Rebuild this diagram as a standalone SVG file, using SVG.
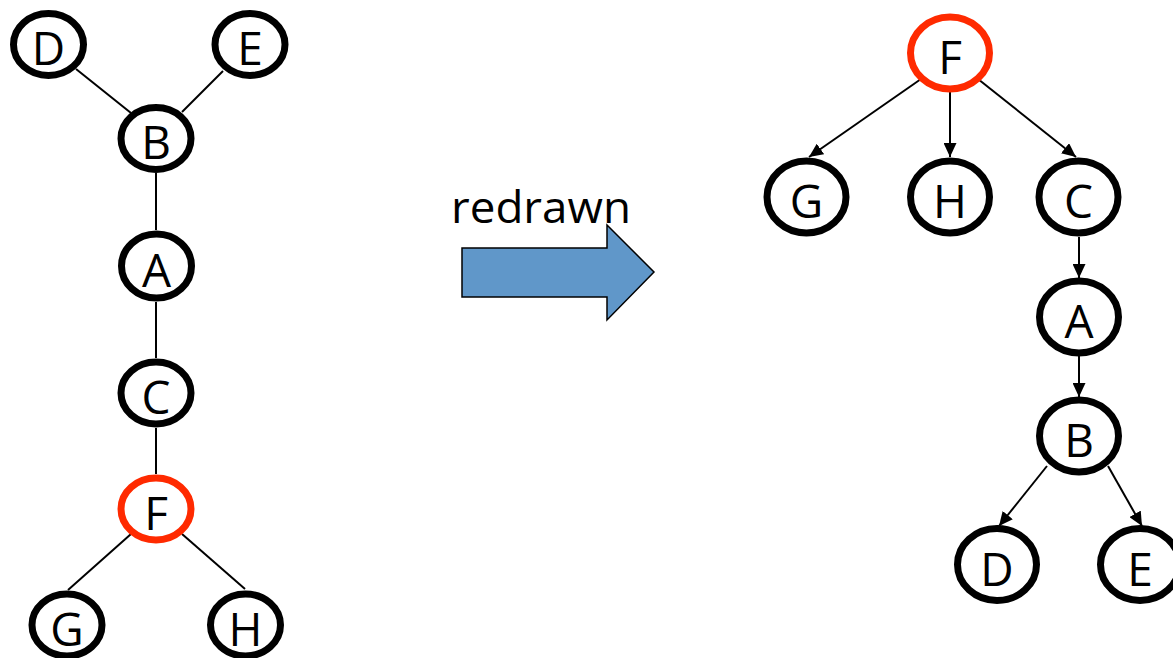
<svg xmlns="http://www.w3.org/2000/svg" width="1173" height="658" viewBox="0 0 1173 658">
<style>
.n{fill:#fff;stroke:#000;stroke-width:7}
.r{fill:#fff;stroke:#ff2a00;stroke-width:7}
.t{font-family:"Open Sans","Liberation Sans",sans-serif;font-size:46px;fill:#000;text-anchor:middle}
.e{stroke:#000;stroke-width:2;fill:none}
.a{stroke:#000;stroke-width:2;fill:none;marker-end:url(#ah)}
</style>
<defs>
<marker id="ah" markerUnits="userSpaceOnUse" markerWidth="14" markerHeight="13" refX="14" refY="6.5" orient="auto">
<path d="M0,0 L14,6.5 L0,13 z" fill="#000"/>
</marker>
</defs>
<rect width="1173" height="658" fill="#fff"/>
<g id="connectors">
<line class="e" x1="76" y1="69" x2="131" y2="113"/>
<line class="e" x1="223" y1="71" x2="182" y2="112"/>
<line class="e" x1="156" y1="173" x2="156" y2="230"/>
<line class="e" x1="156" y1="302" x2="156" y2="358"/>
<line class="e" x1="156" y1="428" x2="156" y2="474"/>
<line class="e" x1="131" y1="534" x2="68" y2="590"/>
<line class="e" x1="182" y1="534" x2="245" y2="589"/>
<line class="a" x1="921" y1="79" x2="809" y2="157"/>
<line class="a" x1="950" y1="89" x2="950" y2="157"/>
<line class="a" x1="978" y1="79" x2="1076" y2="157"/>
<line class="a" x1="1079" y1="237" x2="1079" y2="278"/>
<line class="a" x1="1079" y1="356" x2="1079" y2="397"/>
<line class="a" x1="1047" y1="466" x2="999" y2="526"/>
<line class="a" x1="1108" y1="466" x2="1142" y2="526"/>
</g>
<g id="L-D"><ellipse class="n" cx="48.5" cy="44.5" rx="35" ry="31"/><text class="t" x="48.5" y="65">D</text></g>
<g id="L-E"><ellipse class="n" cx="250" cy="44.5" rx="35" ry="31"/><text class="t" x="250" y="65">E</text></g>
<g id="L-B"><ellipse class="n" cx="156" cy="138.5" rx="35" ry="31"/><text class="t" x="156" y="159">B</text></g>
<g id="L-A"><ellipse class="n" cx="156.5" cy="266" rx="35" ry="32"/><text class="t" x="156.5" y="287">A</text></g>
<g id="L-C"><ellipse class="n" cx="156" cy="393" rx="35" ry="31"/><text class="t" x="156" y="414">C</text></g>
<g id="L-F"><ellipse class="r" cx="156" cy="509" rx="35" ry="31"/><text class="t" x="156" y="530">F</text></g>
<g id="L-G"><ellipse class="n" cx="67" cy="625" rx="35" ry="31"/><text class="t" x="67" y="646">G</text></g>
<g id="L-H"><ellipse class="n" cx="245.5" cy="625" rx="35" ry="31"/><text class="t" x="245.5" y="646">H</text></g>
<g id="arrow">
<text x="451" y="223" font-family="'Open Sans','Liberation Sans',sans-serif" font-size="43" fill="#000" textLength="180" lengthAdjust="spacingAndGlyphs">redrawn</text>
<path d="M462,248 L607,248 L607,225 L654,272 L607,320 L607,297 L462,297 z" fill="#6097c9" stroke="#000" stroke-width="1.5"/>
</g>
<g id="R-F"><ellipse class="r" cx="950" cy="53" rx="39.5" ry="36"/><text class="t" x="950" y="74">F</text></g>
<g id="R-G"><ellipse class="n" cx="806.5" cy="197" rx="39.5" ry="36"/><text class="t" x="806.5" y="218">G</text></g>
<g id="R-H"><ellipse class="n" cx="950" cy="197" rx="39.5" ry="36"/><text class="t" x="950" y="218">H</text></g>
<g id="R-C"><ellipse class="n" cx="1078.5" cy="197" rx="39.5" ry="36"/><text class="t" x="1078.5" y="218">C</text></g>
<g id="R-A"><ellipse class="n" cx="1079" cy="317" rx="39.5" ry="36"/><text class="t" x="1079" y="338">A</text></g>
<g id="R-B"><ellipse class="n" cx="1079" cy="436" rx="39.5" ry="36"/><text class="t" x="1079" y="457">B</text></g>
<g id="R-D"><ellipse class="n" cx="997" cy="564.5" rx="39.5" ry="36"/><text class="t" x="997" y="585.5">D</text></g>
<g id="R-E"><ellipse class="n" cx="1140" cy="564.5" rx="39.5" ry="36"/><text class="t" x="1140" y="585.5">E</text></g>
</svg>
